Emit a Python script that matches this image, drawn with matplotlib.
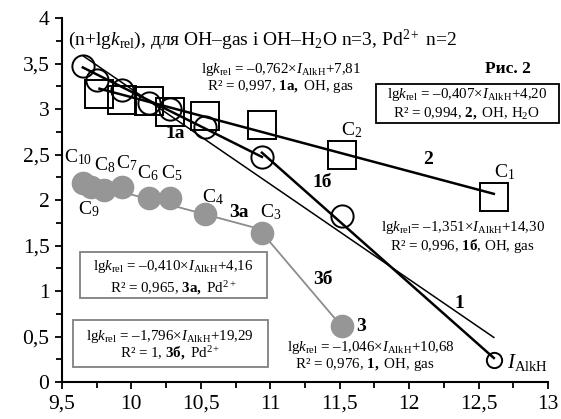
import matplotlib
matplotlib.use("Agg")
import matplotlib.pyplot as plt
from matplotlib.patches import Rectangle
from matplotlib.ticker import MultipleLocator, FuncFormatter

plt.rcParams["font.family"] = ["Liberation Serif", "DejaVu Serif"]
plt.rcParams["mathtext.fontset"] = "custom"
plt.rcParams["mathtext.rm"] = "Liberation Serif"
plt.rcParams["mathtext.it"] = "Liberation Serif:italic"
plt.rcParams["mathtext.bf"] = "Liberation Serif:bold"

# ionisation potentials of alkanes C1..C10 (eV) and n+lg k_rel
I_oh_gas = [9.65, 9.75, 9.93, 10.13, 10.28, 10.53, 10.94, 11.52, 12.61]
y_oh_gas = [3.47, 3.32, 3.21, 3.07, 3.00, 2.80, 2.47, 1.82, 0.24]

I_oh_h2o = [9.77, 9.93, 10.13, 10.28, 10.53, 10.94, 11.52, 12.61]
y_oh_h2o = [3.16, 3.10, 3.09, 2.97, 2.92, 2.82, 2.49, 2.03]

I_pd = [9.65, 9.71, 9.80, 9.93, 10.13, 10.28, 10.53, 10.94, 11.52]
y_pd = [2.19, 2.14, 2.11, 2.14, 2.02, 2.02, 1.85, 1.64, 0.62]

# fits: slope, intercept, n, I from, I to
fit_1 = (-1.046, 10.68, 3, 9.65, 12.61)
fit_1a = (-0.762, 7.81, 3, 9.65, 10.94)
fit_1b = (-1.351, 14.30, 3, 10.94, 12.61)
fit_2 = (-0.407, 4.20, 3, 9.77, 12.61)
fit_3a = (-0.410, 4.16, 2, 9.65, 10.94)
fit_3b = (-1.796, 19.29, 2, 10.94, 11.52)

x_ticks = [9.5, 10, 10.5, 11, 11.5, 12, 12.5, 13]
y_ticks = [0, 0.5, 1, 1.5, 2, 2.5, 3, 3.5, 4]


def fit_line(ax, fit, **kw):
    a, b, n, x0, x1 = fit
    ax.plot([x0, x1], [n + a * x0 + b, n + a * x1 + b], **kw)


fig = plt.figure(figsize=(5.61, 4.19), dpi=100)
ax = fig.add_axes([0.1105, 0.0883, 0.8663, 0.8687])

fit_line(ax, fit_1, color="black", lw=1.1, zorder=2)
fit_line(ax, fit_1a, color="black", lw=1.8, zorder=2)
fit_line(ax, fit_1b, color="black", lw=1.8, zorder=2)
fit_line(ax, fit_2, color="black", lw=1.8, zorder=2)
fit_line(ax, fit_3a, color="#8c8c8c", lw=1.3, zorder=2)
fit_line(ax, fit_3b, color="#8c8c8c", lw=1.3, zorder=2)

ax.plot(I_oh_h2o, y_oh_h2o, ls="none", marker="s", ms=20, mfc="none",
        mec="black", mew=1.4, zorder=3)
ax.plot(I_oh_gas[:-1], y_oh_gas[:-1], ls="none", marker="o", ms=16, mfc="none",
        mec="black", mew=1.4, zorder=4)
ax.plot(I_oh_gas[-1:], y_oh_gas[-1:], ls="none", marker="o", ms=11, mfc="none",
        mec="black", mew=1.4, zorder=4)
ax.plot(I_pd, y_pd, ls="none", marker="o", ms=16, mfc="#969696",
        mec="#969696", zorder=5)

ax.set_xlim(9.5, 13)
ax.set_ylim(0, 4)
ax.set_xticks(x_ticks)
ax.set_yticks(y_ticks)
ax.xaxis.set_minor_locator(MultipleLocator(0.25))
ax.yaxis.set_minor_locator(MultipleLocator(0.25))
comma = FuncFormatter(lambda v, p: f"{v:g}".replace(".", ","))
ax.xaxis.set_major_formatter(comma)
ax.yaxis.set_major_formatter(comma)
for s in ("top", "right"):
    ax.spines[s].set_visible(False)
for s in ("left", "bottom"):
    ax.spines[s].set_linewidth(1.5)
ax.tick_params(which="major", length=5, width=1.3, labelsize=15.5, direction="out", pad=4)
ax.tick_params(which="minor", length=4, width=1.3, direction="out")

ax.text(9.543, 3.76, r"(n+lg$k_{\rm rel}$), для OH–gas і OH–H$_2$O n=3, Pd$^{2+}$ n=2",
        fontsize=14, ha="left", va="center")
ax.text(12.711, 3.44, "Рис. 2", fontsize=12.5, fontweight="bold", ha="center", va="center")

eq = 10.8
ax.text(11.077, 3.43, r"lg$k_{\rm rel}$ = –0,762×$I_{\rm AlkH}$+7,81", fontsize=eq, ha="center", va="center")
ax.text(11.077, 3.25, r"R² = 0,997, $\mathbf{1a,}$ OH, gas", fontsize=eq, ha="center", va="center")

ax.add_patch(Rectangle((11.761, 2.846), 1.315, 0.429, fill=False, ec="black", lw=1.3, clip_on=False))
ax.text(12.416, 3.158, r"lg$k_{\rm rel}$ = –0,407×$I_{\rm AlkH}$+4,20", fontsize=eq, ha="center", va="center")
ax.text(12.416, 2.952, r"R² = 0,994, $\mathbf{2,}$ OH, H$_2$O", fontsize=eq, ha="center", va="center")

ax.text(12.387, 1.697, r"lg$k_{\rm rel}$= –1,351×$I_{\rm AlkH}$+14,30", fontsize=eq, ha="center", va="center")
ax.text(12.387, 1.500, r"R² = 0,996, $\mathbf{1б}$, OH, gas", fontsize=eq, ha="center", va="center")

ax.add_patch(Rectangle((9.630, 0.923), 1.346, 0.506, fill=False, ec="#808080", lw=1.3, clip_on=False))
ax.text(10.299, 1.268, r"lg$k_{\rm rel}$ = –0,410×$I_{\rm AlkH}$+4,16", fontsize=eq, ha="center", va="center")
ax.text(10.299, 1.030, r"R² = 0,965, $\mathbf{3a,}$ Pd$^{2+}$", fontsize=eq, ha="center", va="center")

ax.add_patch(Rectangle((9.579, 0.165), 1.404, 0.516, fill=False, ec="#808080", lw=1.3, clip_on=False))
ax.text(10.278, 0.505, r"lg$k_{\rm rel}$ = –1,796×$I_{\rm AlkH}$+19,29", fontsize=eq, ha="center", va="center")
ax.text(10.278, 0.315, r"R² = 1, $\mathbf{3б,}$ Pd$^{2+}$", fontsize=eq, ha="center", va="center")

ax.text(11.725, 0.375, r"lg$k_{\rm rel}$ = –1,046×$I_{\rm AlkH}$+10,68", fontsize=eq, ha="center", va="center")
ax.text(11.68, 0.19, r"R² = 0,976, $\mathbf{1,}$ OH, gas", fontsize=eq, ha="center", va="center")

c_labels = [("C$_{10}$", 9.615, 2.473), ("C$_8$", 9.81, 2.385), ("C$_7$", 9.968, 2.407),
            ("C$_6$", 10.119, 2.297), ("C$_5$", 10.292, 2.297), ("C$_9$", 9.694, 1.901),
            ("C$_4$", 10.587, 2.033), ("C$_3$", 11.005, 1.868), ("C$_2$", 11.588, 2.769),
            ("C$_1$", 12.689, 2.308)]
for t, x, y in c_labels:
    ax.text(x, y, t, fontsize=14, ha="center", va="center")

for t, x, y in [("2", 12.135, 2.44), ("1б", 11.372, 2.187), ("1а", 10.314, 2.736),
                ("3а", 10.774, 1.868), ("3б", 11.379, 1.121), ("3", 11.653, 0.615),
                ("1", 12.365, 0.868)]:
    ax.text(x, y, t, fontsize=14, fontweight="bold", ha="center", va="center")

ax.text(12.855, 0.209, r"$I_{\rm AlkH}$", fontsize=15, ha="center", va="center")

fig.savefig("out.png", dpi=100)
